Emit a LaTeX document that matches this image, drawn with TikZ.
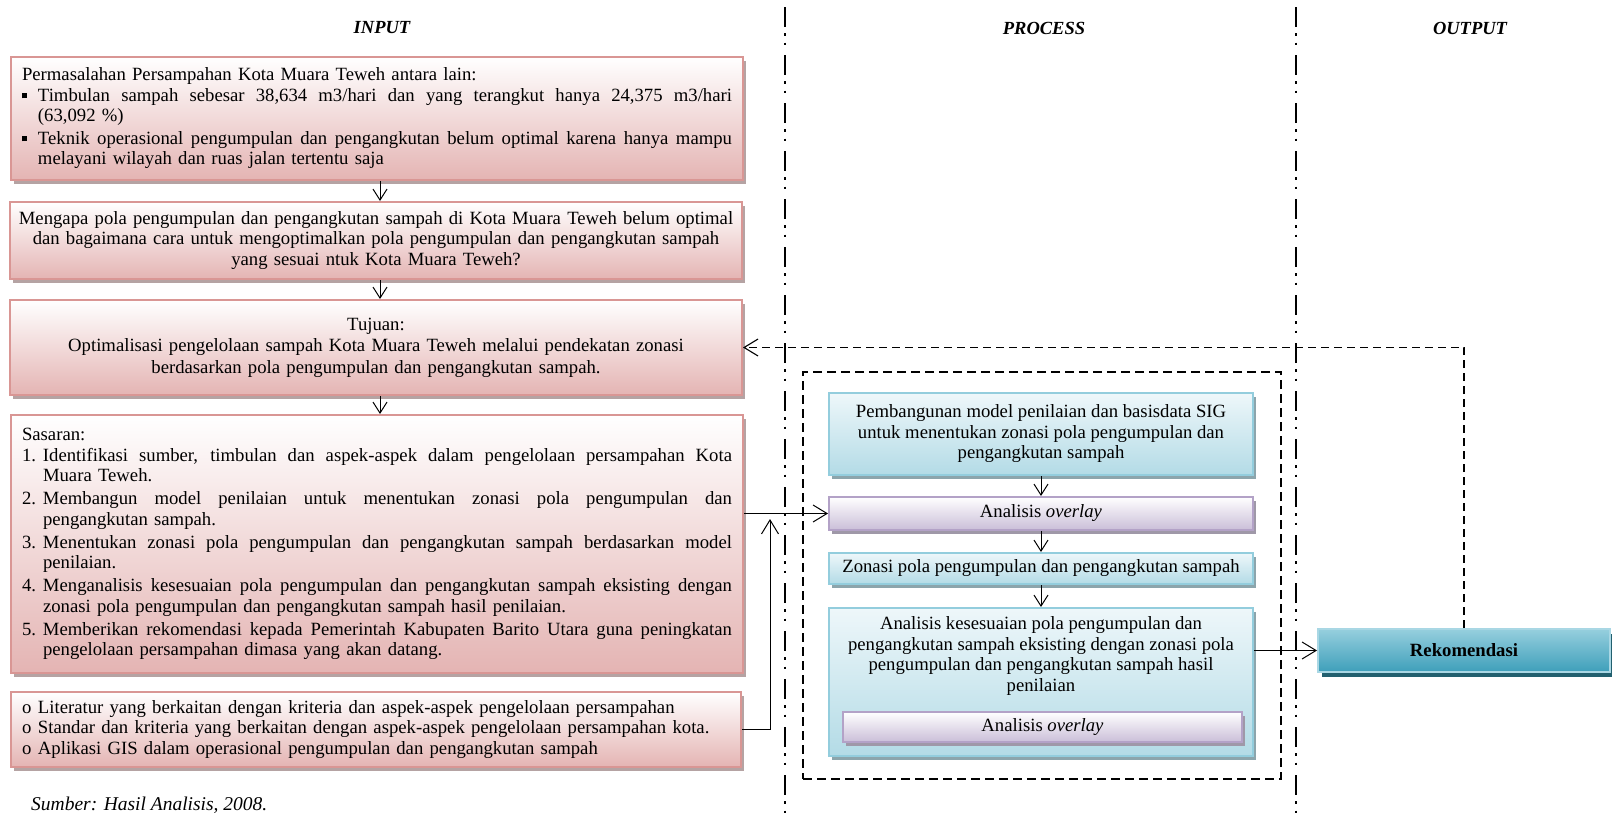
\documentclass[tikz,border=0pt]{standalone}
\usepackage{fontspec}
\setmainfont{Liberation Serif}
\usetikzlibrary{arrows.meta,shadows,calc}

% box colours
\definecolor{pinkedge}{HTML}{D99694}
\definecolor{pinkbot}{HTML}{E4B4B3}
\definecolor{pinkshad}{HTML}{B5A3A3}
\definecolor{tealedge}{HTML}{93CDDD}
\definecolor{tealtop}{HTML}{EEF7FA}
\definecolor{tealbot}{HTML}{B3DBE6}
\definecolor{tealshad}{HTML}{8CA5AC}
\definecolor{purpedge}{HTML}{B3A2C7}
\definecolor{purpbot}{HTML}{CABED8}
\definecolor{purpshad}{HTML}{9F98A8}
\definecolor{rektop}{HTML}{96CFDE}
\definecolor{rekbot}{HTML}{3E9FBA}
\definecolor{rekedge}{HTML}{A9D7E4}
\definecolor{rekshad}{HTML}{22606F}

% one line of a justified paragraph, with an optional hanging label
\newcommand\jrow[3]{\noindent\makebox[#1][l]{#2}%
  \hbox to \dimexpr\hsize-#1\relax{\spaceskip=.3333em plus .4em minus .1em\relax #3}\par}
% last (ragged) line of a paragraph
\newcommand\rrow[3]{\noindent\makebox[#1][l]{#2}#3\par}
\newcommand\sqb{\raisebox{3pt}{\rule{5pt}{5pt}}}

\tikzset{
  boxbase/.style={rectangle, line width=2pt, inner sep=0pt},
  pinkbox/.style={boxbase, draw=pinkedge, top color=white, bottom color=pinkbot,
    drop shadow={shadow xshift=3pt, shadow yshift=-4pt, fill=pinkshad, opacity=1}},
  tealbox/.style={boxbase, draw=tealedge, top color=tealtop, bottom color=tealbot,
    drop shadow={shadow xshift=3pt, shadow yshift=-4pt, fill=tealshad, opacity=1}},
  purpbox/.style={boxbase, draw=purpedge, top color=white, bottom color=purpbot,
    drop shadow={shadow xshift=3pt, shadow yshift=-4pt, fill=purpshad, opacity=1}},
  rekbox/.style={boxbase, draw=rekedge, top color=rektop, bottom color=rekbot,
    drop shadow={shadow xshift=4pt, shadow yshift=-5pt, fill=rekshad, opacity=1}},
  hdr/.style={font=\fontsize{18.5}{21}\selectfont\bfseries\itshape},
  conn/.style={line width=1pt, -{Straight Barb[length=14pt, width=17pt]}},
  down/.style={line width=1pt, -{Straight Barb[length=11pt, width=14pt]}},
  fb/.style={line width=1.1pt, dash pattern=on 8pt off 5pt, -{Straight Barb[length=14pt, width=17pt]}},
  divider/.style={line width=2.2pt, dash pattern=on 20pt off 6pt on 2.5pt off 7pt on 2.5pt off 10pt},
  frame/.style={line width=1.6pt, dash pattern=on 9pt off 5pt},
}

\begin{document}
\begin{tikzpicture}[x=1pt, y=-1pt, font=\fontsize{18.7}{20.5}\selectfont]
\useasboundingbox (0,0) rectangle (1612,814);

% column dividers
\draw[divider] (785,7) -- (785,814);
\draw[divider] (1296,7) -- (1296,814);

% column titles
\node[hdr] (hin) at (382,28) {INPUT};
\node[hdr] (hpro) at (1044,28) {PROCESS};
\node[hdr] (hout) at (1470,28) {OUTPUT};

% ---------- input column ----------
\node[pinkbox, minimum width=732pt, minimum height=123pt, text width=710pt, align=left]
  (b1) at (377,118.5) {%
  \rrow{0pt}{}{Permasalahan Persampahan Kota Muara Teweh antara lain:}
  \jrow{16pt}{\sqb}{Timbulan sampah sebesar 38,634 m3/hari dan yang terangkut hanya 24,375 m3/hari}
  \rrow{16pt}{}{(63,092 \%)}\vspace{2pt}
  \jrow{16pt}{\sqb}{Teknik operasional pengumpulan dan pengangkutan belum optimal karena hanya mampu}
  \rrow{16pt}{}{melayani wilayah dan ruas jalan tertentu saja}};

\node[pinkbox, minimum width=732pt, minimum height=77pt, text width=725pt, align=center]
  (b2) at (376,240.5) {Mengapa pola pengumpulan dan pengangkutan sampah di Kota Muara Teweh belum optimal\\
  dan bagaimana cara untuk mengoptimalkan pola pengumpulan dan pengangkutan sampah\\
  yang sesuai ntuk Kota Muara Teweh?};

\node[pinkbox, minimum width=732pt, minimum height=95pt, text width=725pt, align=center]
  (b3) at (376,347.5) {Tujuan:\\[1pt]
  Optimalisasi pengelolaan sampah Kota Muara Teweh melalui pendekatan zonasi\\[1pt]
  berdasarkan pola pengumpulan dan pengangkutan sampah.};

\node[pinkbox, minimum width=732pt, minimum height=258pt, text width=710pt, align=left]
  (b4) at (377,544) {%
  \rrow{0pt}{}{Sasaran:}
  \jrow{21pt}{1.}{Identifikasi sumber, timbulan dan aspek-aspek dalam pengelolaan persampahan Kota}
  \rrow{21pt}{}{Muara Teweh.}\vspace{2.5pt}
  \jrow{21pt}{2.}{Membangun model penilaian untuk menentukan zonasi pola pengumpulan dan}
  \rrow{21pt}{}{pengangkutan sampah.}\vspace{2.5pt}
  \jrow{21pt}{3.}{Menentukan zonasi pola pengumpulan dan pengangkutan sampah berdasarkan model}
  \rrow{21pt}{}{penilaian.}\vspace{2.5pt}
  \jrow{21pt}{4.}{Menganalisis kesesuaian pola pengumpulan dan pengangkutan sampah eksisting dengan}
  \rrow{21pt}{}{zonasi pola pengumpulan dan pengangkutan sampah hasil penilaian.}\vspace{2.5pt}
  \jrow{21pt}{5.}{Memberikan rekomendasi kepada Pemerintah Kabupaten Barito Utara guna peningkatan}
  \rrow{21pt}{}{pengelolaan persampahan dimasa yang akan datang.}};

\node[pinkbox, minimum width=730pt, minimum height=75pt, text width=708pt, align=left]
  (b5) at (376,729.5) {%
  \rrow{16pt}{o}{Literatur yang berkaitan dengan kriteria dan aspek-aspek pengelolaan persampahan}
  \rrow{16pt}{o}{Standar dan kriteria yang berkaitan dengan aspek-aspek pengelolaan persampahan kota.}
  \rrow{16pt}{o}{Aplikasi GIS dalam operasional pengumpulan dan pengangkutan sampah}};

\node[anchor=base west, align=left, inner sep=0pt, font=\fontsize{19.5}{20}\selectfont\itshape]
  (src) at (31,810) {Sumber: Hasil Analisis, 2008.};

% ---------- process column ----------
\node[frame, draw, minimum width=478pt, minimum height=407pt, inner sep=0pt] (frm) at (1042,575.5) {};

\node[tealbox, minimum width=424pt, minimum height=82pt, align=center] (t1) at (1041,434)
  {Pembangunan model penilaian dan basisdata SIG\\
   untuk menentukan zonasi pola pengumpulan dan\\
   pengangkutan sampah};

\node[purpbox, minimum width=424pt, minimum height=33pt] (p1) at (1041,513.5)
  {Analisis \textit{overlay}};

\node[tealbox, minimum width=424pt, minimum height=31pt] (t2) at (1041,568.5)
  {Zonasi pola pengumpulan dan pengangkutan sampah};

\node[tealbox, minimum width=424pt, minimum height=148pt] (t3) at (1041,682) {};
\node[align=center, inner sep=0pt] (t3txt) at (1041,656)
  {Analisis kesesuaian pola pengumpulan dan\\
   pengangkutan sampah eksisting dengan zonasi pola\\
   pengumpulan dan pengangkutan sampah hasil\\
   penilaian};
\node[purpbox, minimum width=399pt, minimum height=30pt] (p2) at (1042.5,727)
  {Analisis \textit{overlay}};

% ---------- output column ----------
\node[rekbox, minimum width=292pt, minimum height=43pt, font=\fontsize{18.7}{20}\selectfont\bfseries]
  (rek) at (1464,650.5) {Rekomendasi};

% ---------- connectors ----------
\draw[down] (b1.south -| 380,0) -- (b2.north -| 380,0);
\draw[down] (b2.south -| 380,0) -- (b3.north -| 380,0);
\draw[down] (b3.south -| 380,0) -- (b4.north -| 380,0);

\draw[down] (t1.south) -- (p1.north);
\draw[down] (p1.south) -- (t2.north);
\draw[down] (t2.south) -- (t3.north);

\draw[conn] (b4.east |- p1.west) -- (p1.west);
\coordinate (upTip) at (770,519);
\draw[conn] (b5.east) -| (upTip);
\draw[conn] (t3.east |- rek.west) -- (rek.west);
\draw[fb] (rek.north) -- (rek.north |- b3.east) -- (b3.east);

\end{tikzpicture}
\end{document}
